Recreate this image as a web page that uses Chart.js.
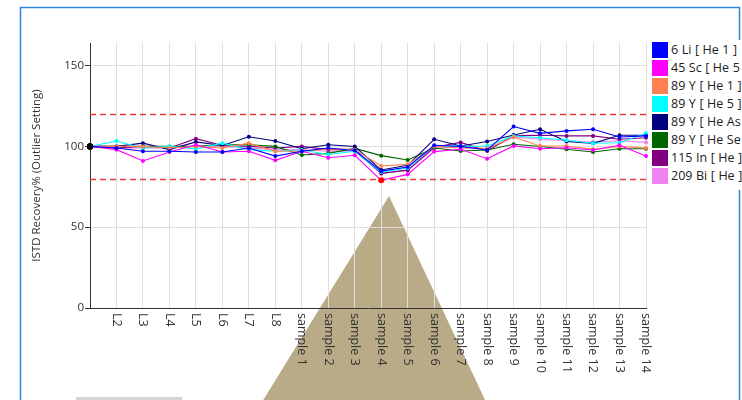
<!DOCTYPE html>
<html>
<head>
<meta charset="utf-8">
<script src="https://cdn.jsdelivr.net/npm/chart.js@4/dist/chart.umd.min.js"></script>
<style>
  html, body { margin: 0; padding: 0; background: #fff; overflow: hidden; }
  #wrap { position: relative; width: 742px; height: 400px; }
  #legend {
    position: absolute; left: 650px; top: 40px; width: 92px; height: 150px;
    background: #fff; overflow: hidden; white-space: nowrap;
    font-family: "Open Sans", sans-serif; font-size: 12.5px; word-spacing: 0.3px; color: #222;
  }
  .item { position: absolute; left: 2px; height: 16px; line-height: 16px; }
  .box { position: absolute; left: 0; top: 0; width: 16px; height: 16px; }
  .txt { position: absolute; left: 19px; top: 0; }
</style>
</head>
<body>
<div id="wrap">
  <canvas id="c" width="742" height="400"></canvas>
  <div id="legend"></div>
</div>
<script>
// Categories: calibration levels, then samples
const categories = ['L1', 'L2', 'L3', 'L4', 'L5', 'L6', 'L7', 'L8',
  'sample 1', 'sample 2', 'sample 3', 'sample 4', 'sample 5', 'sample 6', 'sample 7',
  'sample 8', 'sample 9', 'sample 10', 'sample 11', 'sample 12', 'sample 13', 'sample 14'];

const seriesNames = ['6 Li [ He 1 ]', '45 Sc [ He 5 ]', '89 Y [ He 1 ]', '89 Y [ He 5 ]',
  '89 Y [ He As ]', '89 Y [ He Se ]', '115 In [ He ]', '209 Bi [ He ]'];
const seriesColors = ['#0000ff', '#ff00ff', '#ff7f50', '#00ffff',
  '#000080', '#006400', '#800080', '#ee82ee'];

// ISTD recovery (%) per internal standard
const li6   = [100, 99, 97, 97, 96.5, 96.5, 99, 94, 97, 99, 97.5, 84.7, 87.3, 100.7, 100, 97.8, 112.3, 108.1, 109.6, 110.6, 105.8, 106.5];
const sc45  = [100, 98, 91, 96.5, 101, 96.5, 97, 91.4, 97, 93, 94.5, 79, 82.7, 96.8, 98.2, 92.4, 100.3, 98.6, 99.2, 97.8, 100.7, 94];
const y89a  = [100, 100, 100, 99, 100, 99, 102, 97, 97, 98.5, 98, 87.9, 88.9, 100, 99, 98.8, 105.8, 100.3, 100.3, 98.2, 100, 99];
const y89b  = [100, 103.3, 99, 100, 98.5, 102, 98, 97, 97.8, 95, 97, 84.1, 86.6, 100.3, 100, 100.3, 106.5, 105.4, 103.8, 102, 102.3, 108.1];
const y89as = [100, 100, 102, 98, 102.8, 100.6, 106, 103.4, 98.6, 101, 99.9, 85.4, 88.3, 104.4, 100.3, 103, 107.1, 110.6, 103, 101.9, 106.9, 106.9];
const y89se = [100, 100, 100, 100, 100, 101, 101, 100, 94.7, 95.7, 98.8, 94.3, 91.6, 99, 97.2, 97.8, 101.3, 99.9, 98.2, 96.5, 98.6, 98.6];
const in115 = [100, 99, 100, 99, 104.8, 100.6, 100, 99, 100, 98, 98, 83.3, 85.3, 99.5, 102.5, 97.2, 106.7, 106.9, 106.5, 106.5, 104.4, 105.4];
const bi209 = [100, 99, 99, 99, 100, 100, 99, 98, 98, 97, 97, 83.3, 85.3, 98.8, 100, 98, 105.9, 104.4, 103.5, 102.7, 103.5, 102.5];
const seriesValues = [li6, sc45, y89a, y89b, y89as, y89se, in115, bi209];

// Outlier limits (%) and y-axis ticks
const outlierLimits = [120, 80];
const yTicks = [0, 50, 100, 150];

const FONT = '"Open Sans", sans-serif';

// Page frame and overlay shape behind the plot
const backdrop = {
  id: 'backdrop',
  beforeDraw(chart) {
    const ctx = chart.ctx;
    ctx.save();
    ctx.strokeStyle = '#2f86dd';
    ctx.lineWidth = 1.5;
    ctx.beginPath();
    ctx.moveTo(20.5, 420); ctx.lineTo(20.5, 7.5); ctx.lineTo(739.5, 7.5); ctx.lineTo(739.5, 420);
    ctx.stroke();
    ctx.fillStyle = '#b9aa88';
    ctx.beginPath();
    ctx.moveTo(389, 196); ctx.lineTo(486, 402); ctx.lineTo(262, 402);
    ctx.closePath(); ctx.fill();
    ctx.fillStyle = '#d4d4d4';
    ctx.fillRect(76, 397, 106, 3);
    ctx.restore();
  }
};

// Dashed outlier limit lines
const limits = {
  id: 'limits',
  beforeDatasetsDraw(chart) {
    const { ctx, chartArea, scales } = chart;
    ctx.save();
    ctx.strokeStyle = '#e83a3a';
    ctx.lineWidth = 1.3;
    ctx.setLineDash([6, 4]);
    outlierLimits.forEach(v => {
      const y = Math.round(scales.y.getPixelForValue(v)) + 0.5;
      ctx.beginPath();
      ctx.moveTo(chartArea.left, y); ctx.lineTo(chartArea.right, y);
      ctx.stroke();
    });
    ctx.restore();
  }
};

// Category labels, rotated to read downward
const xLabels = {
  id: 'xLabels',
  afterDraw(chart) {
    const { ctx, scales } = chart;
    const x = scales.x;
    ctx.save();
    ctx.fillStyle = '#333';
    ctx.font = '12.5px ' + FONT;
    ctx.textAlign = 'left';
    ctx.textBaseline = 'middle';
    categories.forEach((lab, i) => {
      if (i === 0) return;
      ctx.save();
      ctx.translate(x.getPixelForValue(i), x.bottom - x.height + 5);
      ctx.rotate(Math.PI / 2);
      ctx.fillText(lab, 0, 0);
      ctx.restore();
    });
    ctx.restore();
  }
};

const datasets = seriesNames.map((name, k) => ({
  label: name,
  data: seriesValues[k],
  borderColor: seriesColors[k],
  borderWidth: 1.1,
  pointRadius: c => (c.dataIndex === 0 || c.raw < outlierLimits[1]) ? 3 : 2,
  pointBackgroundColor: c => c.dataIndex === 0 ? '#000' : (c.raw < outlierLimits[1] ? '#ff0000' : seriesColors[k]),
  pointBorderColor: c => c.dataIndex === 0 ? '#000' : (c.raw < outlierLimits[1] ? '#ff0000' : seriesColors[k]),
  pointBorderWidth: 0,
  tension: 0
}));

new Chart(document.getElementById('c'), {
  type: 'line',
  data: { labels: categories, datasets },
  options: {
    responsive: false,
    animation: false,
    layout: { padding: { top: 43, left: 20, right: 96, bottom: 0 } },
    plugins: { legend: { display: false }, tooltip: { enabled: false } },
    scales: {
      x: {
        offset: false,
        grid: { color: '#dedede', drawTicks: false },
        border: { color: '#333' },
        ticks: { display: false },
        afterFit: s => { s.height = 92; }
      },
      y: {
        min: 0, max: 164,
        afterBuildTicks: s => { s.ticks = yTicks.map(v => ({ value: v })); },
        grid: { color: '#dedede', tickColor: '#333', tickLength: 5 },
        border: { color: '#333' },
        ticks: { color: '#333', padding: 1, font: { family: FONT, size: 11.5 } },
        title: {
          display: true, text: 'ISTD Recovery% (Outlier Setting)',
          color: '#333', font: { family: FONT, size: 11.5 }, padding: { top: 10, bottom: 0 }
        },
        afterFit: s => { s.width = 70; }
      }
    }
  },
  plugins: [backdrop, limits, xLabels]
});

// Legend
const legend = document.getElementById('legend');
seriesNames.forEach((name, k) => {
  const it = document.createElement('div');
  it.className = 'item';
  it.style.top = (2 + k * 18) + 'px';
  const b = document.createElement('div');
  b.className = 'box'; b.style.background = seriesColors[k];
  const t = document.createElement('div');
  t.className = 'txt'; t.textContent = name;
  it.appendChild(b); it.appendChild(t);
  legend.appendChild(it);
});
</script>
</body>
</html>
